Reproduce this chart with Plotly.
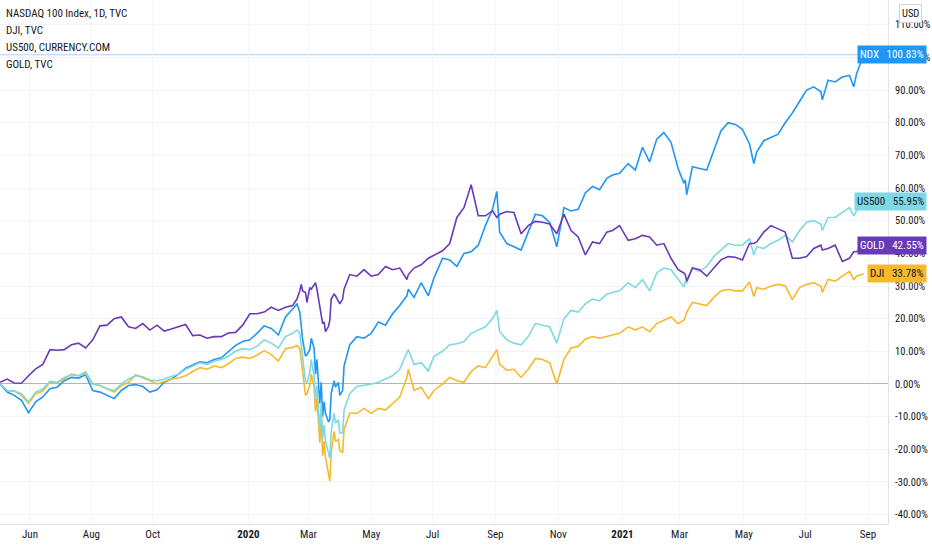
import plotly.graph_objects as go

# ---------------- data (percent change from 2019-05-03) ----------------
dates = [
    # 2019 May-Jul
    "2019-05-03", "2019-05-10", "2019-05-17", "2019-05-24", "2019-05-31", "2019-06-07", "2019-06-14",
    "2019-06-21", "2019-06-28", "2019-07-05", "2019-07-12", "2019-07-19", "2019-07-26",
    # 2019 Aug-Dec
    "2019-08-02", "2019-08-09", "2019-08-16", "2019-08-23", "2019-08-30", "2019-09-06", "2019-09-13",
    "2019-09-20", "2019-09-27", "2019-10-04", "2019-10-11", "2019-10-18", "2019-10-25", "2019-11-01",
    "2019-11-08", "2019-11-15", "2019-11-22", "2019-11-29", "2019-12-06", "2019-12-13", "2019-12-20",
    "2019-12-27",
    # 2020 Jan-mid Feb
    "2020-01-03", "2020-01-10", "2020-01-17", "2020-01-24", "2020-01-31", "2020-02-07", "2020-02-14",
    # 2020 crash
    "2020-02-19", "2020-02-21", "2020-02-24", "2020-02-25", "2020-02-27", "2020-02-28", "2020-03-03",
    "2020-03-04", "2020-03-06", "2020-03-09", "2020-03-10", "2020-03-12", "2020-03-13", "2020-03-16",
    "2020-03-17", "2020-03-18", "2020-03-20", "2020-03-23", "2020-03-24", "2020-03-26", "2020-03-27",
    "2020-03-31", "2020-04-01", "2020-04-03", "2020-04-06", "2020-04-10",
    # 2020 recovery
    "2020-04-17", "2020-04-24", "2020-05-01", "2020-05-08", "2020-05-15", "2020-05-22", "2020-05-29",
    "2020-06-05", "2020-06-08", "2020-06-12", "2020-06-19", "2020-06-26", "2020-07-02", "2020-07-10",
    "2020-07-17", "2020-07-24", "2020-07-31", "2020-08-07", "2020-08-14", "2020-08-21", "2020-08-28",
    "2020-09-02", "2020-09-04", "2020-09-11", "2020-09-18", "2020-09-25", "2020-10-02", "2020-10-09",
    "2020-10-16", "2020-10-23", "2020-10-30", "2020-11-06", "2020-11-13", "2020-11-20", "2020-11-27",
    "2020-12-04", "2020-12-11", "2020-12-18", "2020-12-24", "2020-12-31",
    # 2021
    "2021-01-08", "2021-01-15", "2021-01-22", "2021-01-29", "2021-02-05", "2021-02-12", "2021-02-19",
    "2021-02-26", "2021-03-04", "2021-03-05", "2021-03-08", "2021-03-12", "2021-03-19", "2021-03-26",
    "2021-04-02", "2021-04-09", "2021-04-16", "2021-04-23", "2021-04-30", "2021-05-07", "2021-05-12",
    "2021-05-14", "2021-05-21", "2021-05-28", "2021-06-04", "2021-06-11", "2021-06-18", "2021-06-25",
    "2021-07-02", "2021-07-09", "2021-07-16", "2021-07-19", "2021-07-23", "2021-07-30", "2021-08-06",
    "2021-08-13", "2021-08-18", "2021-08-20", "2021-08-27",
]

ndx = [
    0.0, -2.5, -3.5, -5.0, -8.8, -5.5, -4.0, -1.5, -1.0, 1.0, 2.0, 1.8, 2.8,
    -2.0, -2.5, -3.5, -4.5, -2.0, -0.5, -0.2, -0.8, -2.5, -1.8, 0.5, 1.5, 3.0, 4.8, 5.8, 6.8, 6.5, 7.5,
    8.0, 10.0, 11.8, 13.0,
    13.5, 15.5, 17.8, 17.0, 15.0, 20.5, 23.0,
    24.5, 22.0, 17.5, 13.5, 8.5, 9.0, 10.5, 14.0, 11.0, 3.0, 7.5, -6.0, 0.5, -10.0, -5.5, -9.0, -11.5,
    -11.0, -3.0, 1.0, -1.0, 0.5, -3.5, -2.0, 5.5, 12.0,
    14.5, 14.0, 15.5, 19.0, 18.0, 21.5, 24.0, 27.0, 29.0, 26.5, 31.0, 27.0, 32.5, 38.5, 38.0, 36.0,
    40.0, 40.5, 42.5, 48.5, 53.5, 59.0, 46.5, 43.0, 42.0, 41.0, 46.5, 52.0, 51.5, 49.5, 42.0, 54.0,
    53.0, 53.5, 58.5, 60.5, 59.5, 63.0, 64.0, 64.5,
    67.5, 65.5, 72.5, 68.0, 75.0, 77.0, 74.0, 66.0, 61.5, 62.5, 58.0, 66.5, 66.0, 65.5, 71.5, 77.5,
    80.0, 79.5, 78.0, 73.5, 67.5, 71.0, 74.5, 75.5, 76.5, 80.0, 83.0, 86.5, 90.0, 91.0, 89.5, 87.0,
    93.0, 92.5, 94.0, 94.5, 91.0, 95.0, 100.83,
]

dji = [
    0.0, -2.0, -2.2, -3.5, -6.0, -3.0, -2.2, 0.5, 0.3, 1.5, 3.0, 2.5, 3.2,
    0.0, -0.5, -1.5, -2.5, -0.5, 0.5, 2.8, 2.0, 1.0, 0.0, 0.8, 1.5, 1.8, 2.5, 3.8, 5.0, 4.5, 5.5,
    5.0, 6.2, 7.8, 8.2,
    7.8, 8.8, 10.2, 9.0, 7.0, 10.8, 11.2,
    11.8, 10.8, 7.0, 3.5, -3.5, -3.0, -0.5, 3.0, -1.0, -8.5, -4.5, -18.0, -10.5, -22.0, -17.5, -22.5,
    -27.5, -29.8, -21.0, -14.5, -17.5, -17.0, -20.5, -21.0, -14.0, -9.0,
    -9.0, -7.5, -9.0, -7.5, -8.0, -6.0, -4.0, 2.0, 4.5, -2.0, -1.0, -4.5, -2.0, 0.0, 2.0, 1.0,
    0.5, 3.8, 5.5, 5.0, 8.5, 10.5, 6.0, 4.2, 4.5, 2.0, 4.5, 7.8, 7.5, 6.5, 0.0, 7.5, 11.0, 11.5,
    13.8, 14.5, 14.0, 14.5, 15.0, 15.5,
    17.5, 16.5, 17.5, 16.0, 18.5, 19.5, 20.5, 18.5, 19.5, 20.5, 22.0, 25.0, 24.5, 24.0, 26.5, 28.5,
    29.0, 28.5, 28.5, 31.2, 26.8, 29.5, 29.0, 30.0, 30.5, 30.0, 25.8, 29.5, 30.5, 31.0, 30.0, 28.0,
    32.0, 31.5, 33.0, 34.5, 32.0, 33.0, 33.78,
]

us500 = [
    0.0, -2.0, -2.2, -3.0, -5.5, -2.5, -1.5, 0.8, 0.5, 2.0, 2.8, 2.5, 3.8,
    0.0, -0.5, -1.5, -2.0, 0.0, 1.5, 2.5, 2.2, 1.2, 1.0, 1.5, 2.3, 3.0, 4.5, 5.5, 6.5, 6.0, 7.0,
    7.5, 8.5, 10.0, 10.8,
    10.5, 11.5, 13.5, 12.5, 11.0, 14.5, 15.5,
    16.5, 15.5, 11.5, 8.0, 0.8, 0.5, 3.5, 7.5, 2.5, -5.0, -0.5, -14.0, -6.0, -17.0, -12.5, -17.5,
    -20.5, -22.8, -14.5, -9.0, -12.0, -11.0, -15.0, -15.0, -8.0, -3.0,
    -0.8, -0.5, 0.0, 0.5, 1.5, 2.5, 4.5, 9.5, 10.5, 6.0, 6.5, 4.0, 8.5, 10.0, 12.0, 12.3,
    13.0, 15.5, 16.5, 17.5, 20.0, 22.5, 16.0, 13.5, 12.5, 12.0, 14.5, 18.5, 18.0, 17.5, 12.5, 20.0,
    22.5, 22.0, 24.5, 26.0, 25.5, 27.5, 28.0, 28.5,
    31.0, 29.5, 32.0, 28.5, 34.0, 35.5, 35.0, 32.0, 29.8, 31.5, 31.0, 35.5, 34.5, 36.0, 39.0, 41.0,
    43.0, 42.5, 42.5, 44.5, 39.5, 42.0, 41.5, 43.0, 44.0, 45.5, 43.5, 47.0, 49.5, 50.0, 49.0, 47.0,
    51.0, 51.0, 52.5, 54.0, 51.5, 53.0, 55.95,
]

gold = [
    0.5, 1.5, 0.3, 0.2, 2.5, 4.6, 6.0, 10.5, 10.3, 10.5, 12.0, 12.5, 11.0,
    13.5, 17.8, 18.0, 20.0, 20.5, 17.5, 17.0, 18.5, 16.5, 18.0, 16.2, 16.8, 17.5, 18.2, 14.8, 15.0,
    14.0, 14.5, 14.5, 15.6, 15.8, 18.0,
    21.5, 21.5, 22.0, 23.5, 22.5, 23.5, 24.0,
    26.0, 28.5, 30.5, 28.5, 28.0, 25.0, 29.5, 29.0, 30.5, 31.0, 29.0, 23.5, 20.5, 18.5, 19.0, 16.0,
    17.5, 19.5, 26.0, 27.5, 27.0, 25.0, 24.5, 26.0, 29.0, 33.5,
    33.0, 35.0, 33.0, 33.5, 36.0, 35.0, 35.5, 32.0, 33.5, 35.5, 36.5, 38.5, 39.5, 40.8, 43.0, 51.0,
    54.0, 61.0, 51.5, 51.5, 53.0, 51.0, 52.0, 52.8, 52.5, 46.0, 48.5, 49.8, 49.5, 49.0, 46.0, 52.0,
    47.0, 45.0, 39.5, 43.5, 43.0, 46.5, 47.0, 48.5,
    44.0, 44.5, 45.5, 45.0, 42.5, 43.0, 38.5, 35.0, 34.0, 33.5, 31.5, 35.5, 35.0, 33.0, 35.5, 38.0,
    39.0, 38.8, 38.0, 43.0, 43.0, 43.5, 46.5, 48.5, 47.5, 46.5, 38.5, 38.5, 39.0, 41.5, 42.5, 41.0,
    41.5, 42.5, 37.5, 38.5, 40.5, 40.5, 42.55,
]

series_names = ["NDX", "DJI", "US500", "GOLD"]
legend_lines = ["NASDAQ 100 Index, 1D, TVC", "DJI, TVC", "US500, CURRENCY.COM", "GOLD, TVC"]

tick_dates = ["2019-06-03", "2019-08-01", "2019-10-01", "2020-01-02", "2020-03-02", "2020-05-01",
              "2020-07-01", "2020-09-01", "2020-11-02", "2021-01-04", "2021-03-01", "2021-05-03",
              "2021-07-01", "2021-09-01"]
tick_text = ["Jun", "Aug", "Oct", "<b>2020</b>", "Mar", "May", "Jul", "Sep", "Nov", "<b>2021</b>",
             "Mar", "May", "Jul", "Sep"]

y_ticks = list(range(-40, 111, 10))
y_text = [f"{v:.2f}%" for v in y_ticks]

# ---------------- styling ----------------
FONT = "Roboto Condensed, Liberation Sans Narrow, sans-serif"
TXT = "#131722"
colors = {"NDX": "#2196f3", "DJI": "#f6b92b", "US500": "#7fd8e2", "GOLD": "#673ab7"}
label_text_col = {"NDX": "white", "DJI": TXT, "US500": TXT, "GOLD": "white"}
values = {"NDX": ndx, "DJI": dji, "US500": us500, "GOLD": gold}

fig = go.Figure()
for name in ["NDX", "DJI", "US500", "GOLD"]:
    fig.add_trace(go.Scatter(x=dates, y=values[name], mode="lines", name=name,
                             line=dict(color=colors[name], width=1.6), hoverinfo="skip"))

# NDX last-price line
fig.add_shape(type="line", xref="paper", x0=0, x1=1, yref="y", y0=ndx[-1], y1=ndx[-1],
              line=dict(color="rgba(33,150,243,0.4)", width=1), layer="below")

# right-side value labels
for name in series_names:
    last = values[name][-1]
    fig.add_annotation(xref="paper", x=927 / 888, xanchor="right", yref="y", y=last, yanchor="middle",
                       text=f"{name}&nbsp;&nbsp;&nbsp;{last:.2f}%", showarrow=False,
                       bgcolor=colors[name], borderpad=2,
                       font=dict(family=FONT, size=11, color=label_text_col[name]))

# top-left legend lines
for k, txt in enumerate(legend_lines):
    fig.add_annotation(xref="paper", x=4 / 888, xanchor="left", yref="paper",
                       y=1 - (14 + 16.8 * k) / 524, yanchor="middle", text=txt, showarrow=False,
                       font=dict(family=FONT, size=11, color=TXT))

# USD badge
fig.add_annotation(xref="paper", x=911 / 888, xanchor="center", yref="paper", y=1 - 14 / 524,
                   yanchor="middle", text="USD", showarrow=False, bgcolor="white",
                   bordercolor="#d1d4dc", borderwidth=1, borderpad=2,
                   font=dict(family=FONT, size=10.5, color=TXT))

fig.update_layout(
    width=932, height=550,
    margin=dict(l=0, r=44, t=0, b=26),
    paper_bgcolor="white", plot_bgcolor="white",
    showlegend=False,
    font=dict(family=FONT, size=11, color=TXT),
    xaxis=dict(
        type="date",
        range=["2019-05-03", "2021-09-21"],
        rangebreaks=[dict(bounds=["sat", "mon"])],
        tickvals=tick_dates, ticktext=tick_text,
        showgrid=True, gridcolor="#f3f5f9", gridwidth=1,
        showline=True, linecolor="#e0e3eb", linewidth=1,
        ticks="", tickfont=dict(family=FONT, size=11, color=TXT),
        zeroline=False, fixedrange=True,
    ),
    yaxis=dict(
        side="right",
        range=[-42.9, 117.6],
        tickvals=y_ticks, ticktext=y_text,
        showgrid=True, gridcolor="#f0f3fa", gridwidth=1,
        zeroline=True, zerolinecolor="#b2b5be", zerolinewidth=1,
        showline=True, linecolor="#e0e3eb", linewidth=1,
        ticks="", ticklabelstandoff=4,
        tickfont=dict(family=FONT, size=10.5, color=TXT),
        fixedrange=True,
    ),
)

fig.write_html("out.html", config={"displayModeBar": False},
               post_script="document.body.style.margin='0';")
